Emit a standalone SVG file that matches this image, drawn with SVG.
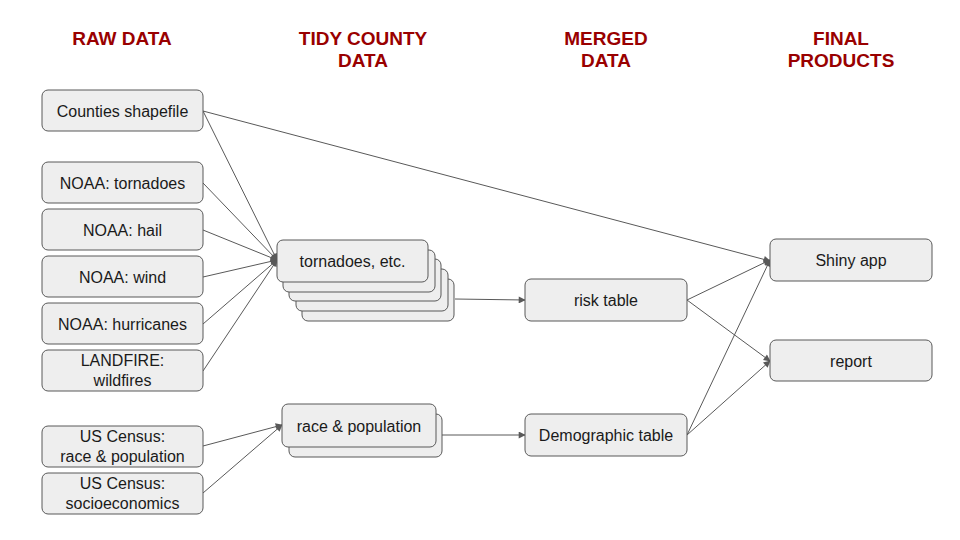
<svg xmlns="http://www.w3.org/2000/svg" width="960" height="540" viewBox="0 0 960 540">
<style>
.box{fill:#eeeeee;stroke:#595959;stroke-width:1}
.t{font-family:"Liberation Sans",Arial,sans-serif;font-size:16px;fill:#1a1a1a;text-anchor:middle}
.h{font-family:"Liberation Sans",Arial,sans-serif;font-size:19px;font-weight:bold;fill:#990000;text-anchor:middle}
.c{stroke:#595959;stroke-width:1;fill:none;marker-end:url(#ah)}
</style>
<defs>
<marker id="ah" viewBox="0 0 10 10" refX="9" refY="5" markerWidth="8" markerHeight="7" markerUnits="userSpaceOnUse" orient="auto">
<path d="M0,0 L10,5 L0,10 z" fill="#595959"/>
</marker>
</defs>
<rect width="960" height="540" fill="#ffffff"/>
<g id="headings">
<text class="h" x="122" y="45">RAW DATA</text>
<text class="h" x="363" y="45">TIDY COUNTY</text>
<text class="h" x="363" y="67">DATA</text>
<text class="h" x="606" y="45">MERGED</text>
<text class="h" x="606" y="67">DATA</text>
<text class="h" x="841" y="45">FINAL</text>
<text class="h" x="841" y="67">PRODUCTS</text>
</g>
<g id="connectors">
<line class="c" x1="203" y1="111" x2="277" y2="260"/>
<line class="c" x1="203" y1="111" x2="770" y2="261"/>
<line class="c" x1="203" y1="183" x2="277" y2="260"/>
<line class="c" x1="203" y1="230" x2="277" y2="260"/>
<line class="c" x1="203" y1="277" x2="277" y2="260"/>
<line class="c" x1="203" y1="324" x2="277" y2="260"/>
<line class="c" x1="203" y1="371" x2="277" y2="260"/>
<line class="c" x1="203" y1="446" x2="282" y2="425"/>
<line class="c" x1="203" y1="493" x2="282" y2="425"/>
<line class="c" x1="455" y1="299" x2="525" y2="300"/>
<line class="c" x1="442" y1="435" x2="525" y2="435"/>
<line class="c" x1="687" y1="300" x2="770" y2="260"/>
<line class="c" x1="687" y1="300" x2="770" y2="361"/>
<line class="c" x1="687" y1="435" x2="770" y2="260"/>
<line class="c" x1="687" y1="435" x2="770" y2="361"/>
</g>
<g id="counties"><rect class="box" x="42" y="90" width="161" height="41" rx="6"/><text class="t" x="122.5" y="116.5">Counties shapefile</text></g>
<g id="noaa-tornadoes"><rect class="box" x="42" y="162" width="161" height="41" rx="6"/><text class="t" x="122.5" y="188.5">NOAA: tornadoes</text></g>
<g id="noaa-hail"><rect class="box" x="42" y="209" width="161" height="41" rx="6"/><text class="t" x="122.5" y="235.5">NOAA: hail</text></g>
<g id="noaa-wind"><rect class="box" x="42" y="256" width="161" height="41" rx="6"/><text class="t" x="122.5" y="282.5">NOAA: wind</text></g>
<g id="noaa-hurricanes"><rect class="box" x="42" y="303" width="161" height="41" rx="6"/><text class="t" x="122.5" y="329.5">NOAA: hurricanes</text></g>
<g id="landfire"><rect class="box" x="42" y="350" width="161" height="41" rx="6"/><text class="t" x="122.5" y="366">LANDFIRE:</text><text class="t" x="122.5" y="386">wildfires</text></g>
<g id="census-race"><rect class="box" x="42" y="426" width="161" height="41" rx="6"/><text class="t" x="122.5" y="442">US Census:</text><text class="t" x="122.5" y="462">race &amp; population</text></g>
<g id="census-socio"><rect class="box" x="42" y="473" width="161" height="41" rx="6"/><text class="t" x="122.5" y="489">US Census:</text><text class="t" x="122.5" y="509">socioeconomics</text></g>
<g id="tidy-hazards">
<rect class="box" x="302" y="279" width="152" height="42" rx="6"/>
<rect class="box" x="296" y="269" width="152" height="42" rx="6"/>
<rect class="box" x="289" y="259" width="152" height="42" rx="6"/>
<rect class="box" x="283" y="250" width="152" height="42" rx="6"/>
<rect class="box" x="277" y="240" width="151" height="42" rx="6"/>
<text class="t" x="352.5" y="267">tornadoes, etc.</text>
</g>
<g id="tidy-race">
<rect class="box" x="289" y="414" width="153" height="43" rx="6"/>
<rect class="box" x="282" y="404" width="154" height="43" rx="6"/>
<text class="t" x="359" y="432">race &amp; population</text>
</g>
<g id="risk-table"><rect class="box" x="525" y="279" width="162" height="42" rx="6"/><text class="t" x="606" y="306">risk table</text></g>
<g id="demographic-table"><rect class="box" x="525" y="414" width="162" height="42" rx="6"/><text class="t" x="606" y="441">Demographic table</text></g>
<g id="shiny-app"><rect class="box" x="770" y="239" width="162" height="42" rx="6"/><text class="t" x="851" y="266">Shiny app</text></g>
<g id="report"><rect class="box" x="770" y="340" width="162" height="41" rx="6"/><text class="t" x="851" y="367">report</text></g>
</svg>
